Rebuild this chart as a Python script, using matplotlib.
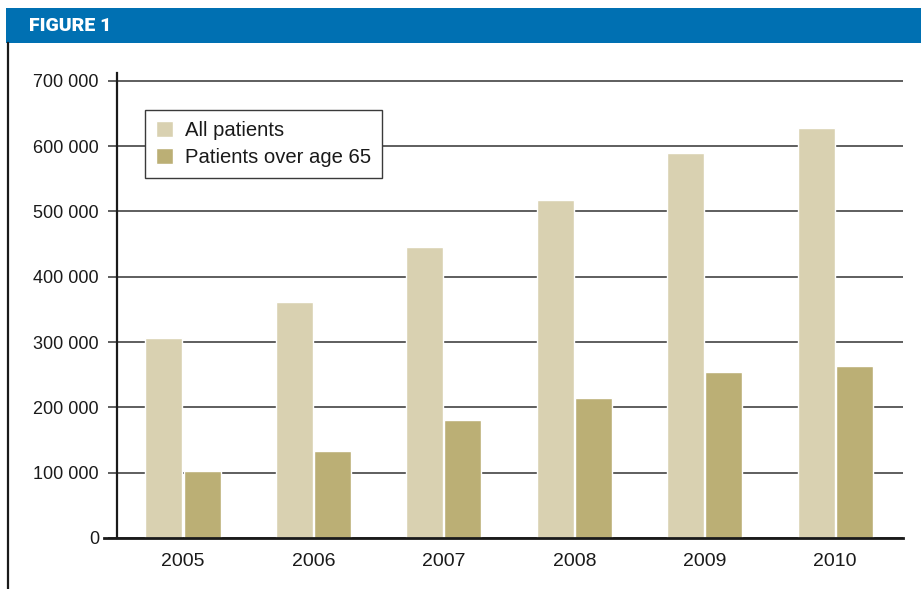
import matplotlib
matplotlib.use("Agg")
import matplotlib.pyplot as plt
from matplotlib.patches import Rectangle
from matplotlib.lines import Line2D
import numpy as np

# data
years = ['2005', '2006', '2007', '2008', '2009', '2010']
all_patients = [306000, 361000, 446000, 518000, 590000, 628000]
over_65 = [103000, 133000, 180000, 214000, 254000, 263000]
yticks = [0, 100000, 200000, 300000, 400000, 500000, 600000, 700000]
ytick_labels = ['0', '100 000', '200 000', '300 000', '400 000',
                '500 000', '600 000', '700 000']

c_all = '#d9d1b1'
c_65 = '#bbaf75'
c_blue = '#0070b2'

plt.rcParams['font.family'] = ['Liberation Sans', 'DejaVu Sans']

fig = plt.figure(figsize=(9.21, 5.89), dpi=100)

# blue header band and frame line on the left
fig.patches.append(Rectangle((6/921, 1-43/589), 1-6/921, 35/589,
                             transform=fig.transFigure, facecolor=c_blue,
                             edgecolor='none'))
fig.lines.append(Line2D([7.5/921, 7.5/921], [0, 1-43/589],
                        transform=fig.transFigure, color='#1a1a1a', lw=1.6))
fig.text(29/921, 1-26/589, 'FIGURE 1', color='white', fontsize=14,
         fontweight='heavy', va='center', ha='left',
         family=['Roboto', 'Liberation Sans'])

ax = fig.add_axes([117/921, 51/589, (903-117)/921, (538-73)/589])

x = np.arange(len(years))
w = 0.284
ax.bar(x - w/2 - 0.004, all_patients, w, color=c_all, edgecolor='white',
       linewidth=1.0, zorder=3, label='All patients')
ax.bar(x + w/2 + 0.004, over_65, w, color=c_65, edgecolor='white',
       linewidth=1.0, zorder=3, label='Patients over age 65')

ax.set_xlim(-0.506, 5.52)
ax.set_ylim(0, 712000)

ax.set_yticks(yticks)
ax.set_yticklabels(ytick_labels)
ax.set_xticks(x)
ax.set_xticklabels(years)
ax.yaxis.grid(True, color='#333333', linewidth=1.1, zorder=1)
ax.set_axisbelow(True)

for s in ['top', 'right']:
    ax.spines[s].set_visible(False)
ax.spines['left'].set_linewidth(1.6)
ax.spines['left'].set_color('#1a1a1a')
ax.spines['bottom'].set_visible(False)
# baseline, a bit longer than the axes on the left
ax.plot([-0.017, 1.0], [0, 0], transform=ax.transAxes, color='#1a1a1a',
        lw=2.0, clip_on=False, zorder=4)

ax.tick_params(axis='y', length=6.5, width=1.1, color='#333333', pad=6.5,
               labelsize=13, labelcolor='#1a1a1a')
ax.tick_params(axis='x', length=0, pad=11, labelsize=14, labelcolor='#1a1a1a')

leg = ax.legend(loc='upper left', bbox_to_anchor=(145/921, 1-110/589),
                bbox_transform=fig.transFigure, borderaxespad=0,
                fontsize=14.6, frameon=True, fancybox=False,
                handlelength=0.85, handleheight=0.85, handletextpad=0.55,
                labelspacing=0.38, borderpad=0.55)
leg.get_frame().set_edgecolor('#3a3a3a')
leg.get_frame().set_linewidth(1.0)
leg.get_frame().set_alpha(1)
leg.set_zorder(5)
for t in leg.get_texts():
    t.set_color('#1a1a1a')

fig.savefig('out.png', dpi=100)
